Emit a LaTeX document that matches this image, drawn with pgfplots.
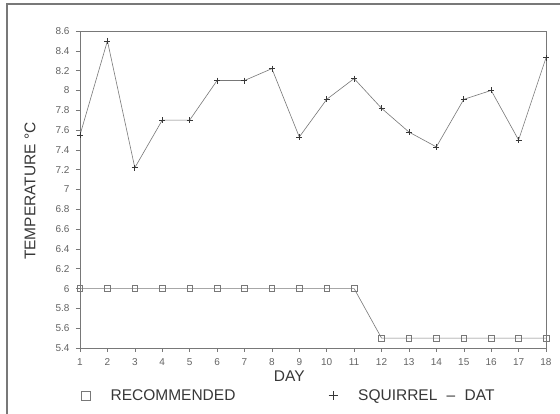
\documentclass[border=0pt]{standalone}
\usepackage{fontspec}
\setmainfont{Liberation Sans}
\usepackage{pgfplots}
\pgfplotsset{compat=1.18}
\definecolor{linegray}{RGB}{120,120,120}
\definecolor{txtgray}{RGB}{55,55,55}
\definecolor{ticktxt}{RGB}{100,100,100}
\begin{document}
\begin{tikzpicture}
\useasboundingbox (0,0) rectangle (560pt,414pt);
\fill[white] (0,0) rectangle (560pt,414pt);
\draw[linegray, line width=1.2pt] (7pt,0) -- (7pt,410pt) -- (560pt,410pt);
\begin{axis}[
  at={(80pt,66pt)}, anchor=south west,
  scale only axis, width=466pt, height=317pt,
  xmin=1, xmax=18, ymin=5.4, ymax=8.6,
  xtick={1,...,18},
  ytick={5.4,5.6,...,8.61},
  xtick pos=bottom, ytick pos=left,
  tick align=outside, major tick length=4pt,
  tick style={linegray, line width=0.5pt},
  axis line style={linegray, line width=0.7pt},
  /pgf/number format/assume math mode=true,
  ticklabel style={font=\fontsize{10}{11}\selectfont, text=ticktxt},
  xticklabel style={yshift=-3pt},
  yticklabel style={xshift=-3pt},
  xlabel={DAY}, ylabel={TEMPERATURE °C},
  label style={font=\fontsize{15.5}{17}\selectfont, text=txtgray},
  xlabel style={at={(ticklabel cs:0.449)}, anchor=north, yshift=2pt},
  ylabel style={at={(axis description cs:-0.107,0.495)}, anchor=center},
  legend columns=2,
  legend style={draw=none, fill=none, at={(axis description cs:-0.0135,-0.151)}, anchor=west,
    font=\fontsize{15.5}{17}\selectfont, text=txtgray,
    /tikz/every even column/.append style={column sep=87pt}},
  legend cell align=left,
  clip=false,
]
\addplot[linegray, line width=0.6pt, mark=square, mark size=2.8pt, mark options={solid, line width=0.6pt}, forget plot] coordinates {
(1,6)(2,6)(3,6)(4,6)(5,6)(6,6)(7,6)(8,6)(9,6)(10,6)(11,6)
(12,5.5)(13,5.5)(14,5.5)(15,5.5)(16,5.5)(17,5.5)(18,5.5)};
\addplot[linegray, line width=0.6pt, mark=+, mark size=3pt, mark options={solid, line width=0.7pt, draw=txtgray}, forget plot] coordinates {
(1,7.55)(2,8.5)(3,7.22)(4,7.7)(5,7.7)(6,8.1)(7,8.1)(8,8.22)(9,7.53)
(10,7.91)(11,8.12)(12,7.82)(13,7.58)(14,7.43)(15,7.91)(16,8.0)(17,7.5)(18,8.33)};
\addlegendimage{legend image code/.code={\path (0cm,0cm) (1.1cm,0cm); \draw[linegray, line width=0.7pt, mark=square, mark size=4.6pt] plot[only marks] coordinates {(0.3cm,0cm)};}}
\addlegendentry{RECOMMENDED}
\addlegendimage{legend image code/.code={\path (0cm,0cm) (1.1cm,0cm); \draw[txtgray, line width=0.8pt, mark=+, mark size=4.6pt] plot[only marks] coordinates {(0.3cm,0cm)};}}
\addlegendentry{SQUIRREL\hspace{0.6em}--\hspace{0.6em}DAT}
\end{axis}
\end{tikzpicture}
\end{document}
